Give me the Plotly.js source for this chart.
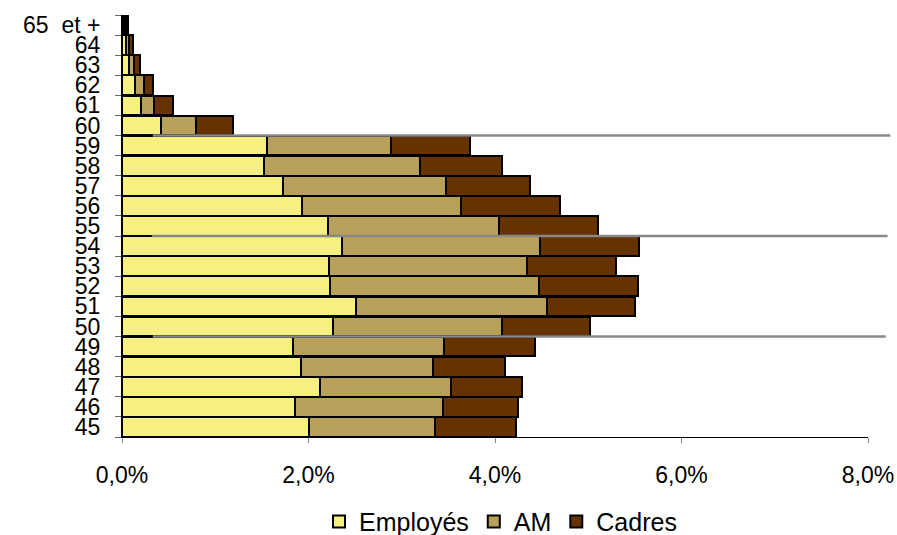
<!DOCTYPE html>
<html>
<head>
<meta charset="utf-8">
<script src="https://cdn.plot.ly/plotly-3.0.1.min.js"></script>
<style>
  html, body { margin: 0; padding: 0; background: #ffffff; }
  #chart { width: 897px; height: 535px; }
</style>
</head>
<body>
<div id="chart"></div>
<script>
// Age categories (bottom to top)
const ages = ["45","46","47","48","49","50","51","52","53","54","55","56","57","58","59","60","61","62","63","64","65\u00a0 et +"];

// Shares of staff in percent
const employes = [2.00, 1.86, 2.12, 1.92, 1.83, 2.26, 2.51, 2.23, 2.22, 2.36, 2.21, 1.93, 1.73, 1.52, 1.56, 0.42, 0.20, 0.14, 0.08, 0.04, 0.02];
const am       = [1.36, 1.58, 1.41, 1.42, 1.62, 1.81, 2.05, 2.24, 2.12, 2.12, 1.83, 1.71, 1.74, 1.68, 1.33, 0.37, 0.14, 0.10, 0.05, 0.03, 0.02];
const cadres   = [0.86, 0.81, 0.76, 0.77, 0.98, 0.95, 0.94, 1.06, 0.96, 1.06, 1.06, 1.06, 0.90, 0.88, 0.84, 0.40, 0.21, 0.09, 0.06, 0.05, 0.02];

const seriesNames = ["Employés", "AM", "Cadres"];
const tickValues = [0, 2, 4, 6, 8];
const tickLabels = ["0,0%", "2,0%", "4,0%", "6,0%", "8,0%"];

// Separator lines: placed between these pairs of age categories
const separatorAfter = ["49", "54", "59"];
const separatorFrom = [0.33, 0.32, 0.33];   // in percent
const separatorTo   = [8.19, 8.21, 8.24];   // in percent

const xMax = 8;
const colors = ["#F5F07F", "#B9A05A", "#663300"];
const values = [employes, am, cadres];

const traces = seriesNames.map((name, i) => ({
  type: "bar",
  orientation: "h",
  name: name,
  y: ages,
  x: values[i],
  marker: { color: colors[i], line: { color: "#000000", width: 2 } },
  hoverinfo: "x+y+name"
}));

const shapes = separatorAfter.map((a, i) => ({
  type: "line",
  xref: "paper", yref: "y",
  x0: separatorFrom[i] / xMax, x1: separatorTo[i] / xMax,
  y0: ages.indexOf(a) + 0.5, y1: ages.indexOf(a) + 0.5,
  line: { color: "#888888", width: 2.5 },
  layer: "above"
}));

const layout = {
  width: 897, height: 535,
  margin: { l: 122, r: 29, t: 15, b: 98, pad: 0 },
  barmode: "stack",
  bargap: 0.02,
  font: { family: "Liberation Sans, Arial, sans-serif", size: 23, color: "#000000" },
  paper_bgcolor: "#ffffff",
  plot_bgcolor: "#ffffff",
  showlegend: true,
  legend: {
    orientation: "h",
    xref: "container", yref: "container",
    x: 0.558, xanchor: "center",
    y: 0.025, yanchor: "middle",
    font: { size: 25, family: "Liberation Sans, Arial, sans-serif" },
    itemclick: false,
    traceorder: "normal"
  },
  xaxis: {
    range: [0, xMax],
    tickmode: "array",
    tickvals: tickValues,
    ticktext: tickLabels,
    showgrid: false,
    zeroline: false,
    showline: true,
    linecolor: "#000000",
    linewidth: 1,
    ticks: "outside",
    ticklen: 5,
    tickcolor: "#888888",
    ticklabelstandoff: 12,
    automargin: false,
    fixedrange: true
  },
  yaxis: {
    type: "category",
    categoryorder: "array",
    categoryarray: ages,
    tickmode: "linear",
    tick0: 0,
    dtick: 1,
    showgrid: false,
    zeroline: false,
    showline: true,
    linecolor: "#000000",
    linewidth: 1,
    ticks: "outside",
    tickson: "boundaries",
    ticklen: 6,
    tickcolor: "#666666",
    ticklabelstandoff: 16,
    automargin: false,
    fixedrange: true
  },
  shapes: shapes
};

Plotly.newPlot("chart", traces, layout, { displayModeBar: false, staticPlot: true });
</script>
</body>
</html>
